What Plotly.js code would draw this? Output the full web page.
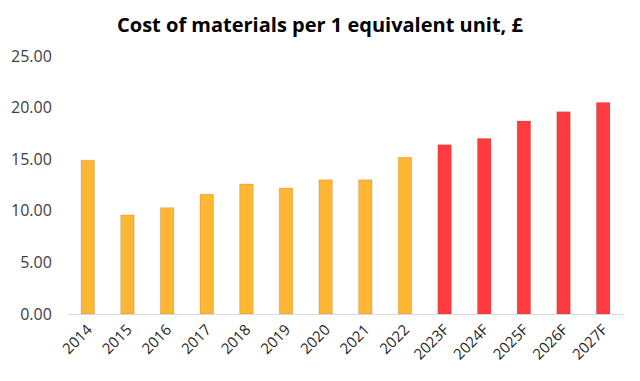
<!DOCTYPE html>
<html><head><meta charset="utf-8">
<script src="https://cdn.plot.ly/plotly-3.0.1.min.js"></script>
<style>html,body{margin:0;padding:0;background:#fff}#chart{width:640px;height:381px}</style>
</head><body><div id="chart"></div>
<script>
const categories = ["2014","2015","2016","2017","2018","2019","2020","2021","2022","2023F","2024F","2025F","2026F","2027F"];
const values = [14.9, 9.6, 10.3, 11.6, 12.6, 12.2, 13.0, 13.0, 15.2, 16.4, 17.0, 18.7, 19.6, 20.5];
const isForecast = [false,false,false,false,false,false,false,false,false,true,true,true,true,true];
const colors = isForecast.map(f => f ? "#FF3B3F" : "#FFB733");

Plotly.newPlot("chart", [{
  type: "bar", x: categories, y: values,
  marker: {color: colors, line: {color: "rgba(0,0,0,0.12)", width: 1}},
  width: 0.34, hoverinfo: "skip"
}], {
  width: 640, height: 381,
  margin: {l: 68, r: 17, t: 56, b: 67},
  paper_bgcolor: "#fff", plot_bgcolor: "#fff",
  title: {text: "Cost of materials per 1 equivalent unit, £", x: 0.5, xanchor: "center", y: 0.935, yanchor: "middle",
    font: {family: "'Open Sans', sans-serif", size: 20, color: "#000", weight: "bold"}},
  xaxis: {type: "category", tickangle: -45, showgrid: false, showline: true, linecolor: "#D9D9D9", linewidth: 1,
    ticks: "", tickfont: {family: "'Open Sans', sans-serif", size: 15, color: "#262626"}},
  yaxis: {range: [0, 25], dtick: 5, tickformat: ".2f", showgrid: false, zeroline: false, showline: false,
    ticks: "outside", ticklen: 12, tickcolor: "rgba(0,0,0,0)",
    tickfont: {family: "'Open Sans', sans-serif", size: 16, color: "#404040"}},
  showlegend: false, bargap: 0.66
}, {staticPlot: true});
</script></body></html>
